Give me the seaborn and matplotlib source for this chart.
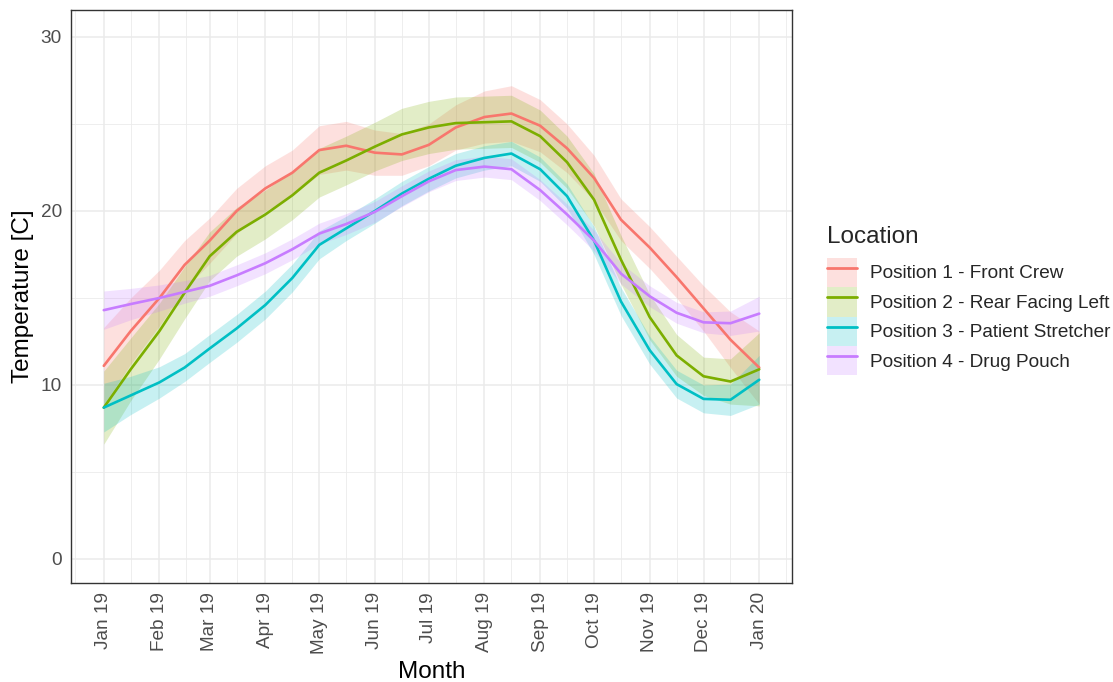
import matplotlib
matplotlib.use("Agg")
import matplotlib.pyplot as plt
import matplotlib.dates as mdates
from matplotlib.patches import Patch
from matplotlib.lines import Line2D
import numpy as np
import pandas as pd
import seaborn as sns

# semi-monthly sample dates
dates = ["2019-01-01", "2019-01-16", "2019-02-01", "2019-02-15", "2019-03-01",
         "2019-03-16", "2019-04-01", "2019-04-16", "2019-05-01", "2019-05-16",
         "2019-06-01", "2019-06-16", "2019-07-01", "2019-07-16", "2019-08-01",
         "2019-08-16", "2019-09-01", "2019-09-16", "2019-10-01", "2019-10-16",
         "2019-11-01", "2019-11-16", "2019-12-01", "2019-12-16", "2020-01-01"]

locations = ["Position 1 - Front Crew", "Position 2 - Rear Facing Left",
             "Position 3 - Patient Stretcher", "Position 4 - Drug Pouch"]

front_crew = [11.1, 13.1, 15.0, 16.9, 18.3, 20.0, 21.3, 22.2, 23.5, 23.75,
              23.35, 23.25, 23.8, 24.8, 25.4, 25.6, 24.9, 23.6, 21.9, 19.5,
              17.9, 16.2, 14.4, 12.6, 11.0]
rear_left = [8.7, 10.9, 13.1, 15.3, 17.4, 18.8, 19.8, 20.9, 22.2, 22.9,
             23.7, 24.4, 24.8, 25.05, 25.1, 25.15, 24.3, 22.8, 20.65, 17.2,
             13.9, 11.7, 10.5, 10.2, 10.9]
stretcher = [8.7, 9.4, 10.15, 11.0, 12.1, 13.25, 14.6, 16.15, 18.05, 19.0,
             20.0, 21.0, 21.85, 22.6, 23.05, 23.3, 22.4, 20.85, 18.3, 14.8,
             12.0, 10.05, 9.2, 9.15, 10.3]
drug_pouch = [14.3, 14.65, 15.0, 15.35, 15.7, 16.3, 17.0, 17.8, 18.7, 19.25,
              19.95, 20.85, 21.7, 22.35, 22.55, 22.4, 21.2, 19.8, 18.3, 16.4,
              15.1, 14.15, 13.6, 13.55, 14.1]

# half widths of the confidence bands
front_crew_se = [2.2, 1.9, 1.6, 1.4, 1.3, 1.3, 1.3, 1.3, 1.4, 1.4, 1.3, 1.2, 1.2,
                 1.3, 1.5, 1.6, 1.5, 1.4, 1.3, 1.2, 1.2, 1.2, 1.3, 1.6, 2.1]
rear_left_se = [2.1, 1.8, 1.6, 1.5, 1.4, 1.4, 1.4, 1.4, 1.4, 1.4, 1.4, 1.5, 1.5,
                1.5, 1.5, 1.5, 1.5, 1.5, 1.5, 1.4, 1.3, 1.2, 1.1, 1.3, 2.1]
stretcher_se = [1.4, 1.1, 0.9, 0.8, 0.8, 0.8, 0.8, 0.8, 0.8, 0.7, 0.7, 0.7, 0.7,
                0.7, 0.7, 0.7, 0.7, 0.7, 0.8, 0.8, 0.8, 0.8, 0.8, 0.9, 1.4]
drug_pouch_se = [1.1, 0.9, 0.75, 0.65, 0.6, 0.6, 0.6, 0.6, 0.6, 0.6, 0.6, 0.6, 0.6,
                 0.6, 0.6, 0.6, 0.6, 0.6, 0.6, 0.6, 0.6, 0.6, 0.6, 0.7, 1.0]

colors = ["#F8766D", "#7CAE00", "#00BFC4", "#C77CFF"]


def main():
    sns.set_style("white")
    plt.rcParams["font.family"] = ["Liberation Sans", "DejaVu Sans"]

    series = [front_crew, rear_left, stretcher, drug_pouch]
    errors = [front_crew_se, rear_left_se, stretcher_se, drug_pouch_se]

    frames = []
    for loc, vals, se in zip(locations, series, errors):
        frames.append(pd.DataFrame({"Month": pd.to_datetime(dates),
                                    "Temperature": vals,
                                    "se": se,
                                    "Location": loc}))
    df = pd.concat(frames, ignore_index=True)

    fig = plt.figure(figsize=(11.13, 6.82), dpi=100)
    ax = fig.add_axes([71 / 1113, 1 - 583 / 682, 721 / 1113, 573 / 682])

    # bands first, lines on top
    for loc, col in zip(locations, colors):
        d = df[df.Location == loc]
        ax.fill_between(d.Month, d.Temperature - d.se, d.Temperature + d.se,
                        color=col, alpha=0.22, linewidth=0)

    sns.lineplot(data=df, x="Month", y="Temperature", hue="Location",
                 hue_order=locations, palette=colors, linewidth=1.9,
                 legend=False, ax=ax)

    start = pd.Timestamp("2019-01-01")
    end = pd.Timestamp("2020-01-01")
    pad = (end - start) * 0.05
    ax.set_xlim(start - pad, end + pad)
    ax.set_ylim(-1.38, 31.55)

    ax.xaxis.set_major_locator(mdates.MonthLocator())
    ax.xaxis.set_major_formatter(mdates.DateFormatter("%b %y"))
    ax.xaxis.set_minor_locator(mdates.MonthLocator(bymonthday=16))
    ax.set_yticks([0, 10, 20, 30])
    ax.set_yticks([5, 15, 25], minor=True)

    ax.grid(True, which="major", color="#EBEBEB", linewidth=1.1)
    ax.grid(True, which="minor", color="#EBEBEB", linewidth=0.6)
    ax.set_axisbelow(True)

    for sp in ax.spines.values():
        sp.set_color("#333333")
        sp.set_linewidth(1.0)

    ax.tick_params(axis="both", which="major", length=3.5, width=1,
                   color="#333333", labelcolor="#4D4D4D", labelsize=13.7,
                   pad=3)
    ax.tick_params(axis="both", which="minor", length=0)
    ax.tick_params(axis="x", rotation=90)

    ax.set_xlabel("Month", fontsize=17.5, color="black", labelpad=5)
    ax.set_ylabel("Temperature [C]", fontsize=17.5, color="black", labelpad=5)

    handles = [(Patch(facecolor=c, alpha=0.22, edgecolor="none"),
                Line2D([], [], color=c, linewidth=2)) for c in colors]
    leg = ax.legend(handles, locations, title="Location",
                    loc="upper left", bbox_to_anchor=(827 / 1113, 1 - 226 / 682),
                    bbox_transform=fig.transFigure,
                    frameon=False, fontsize=13.7, title_fontsize=17.5,
                    handlelength=1.58, handleheight=2.0, labelspacing=0.0,
                    handletextpad=0.68, borderpad=0, borderaxespad=0,
                    alignment="left")
    leg._legend_box.sep = 7

    fig.savefig("out.png", dpi=100)


if __name__ == "__main__":
    main()
